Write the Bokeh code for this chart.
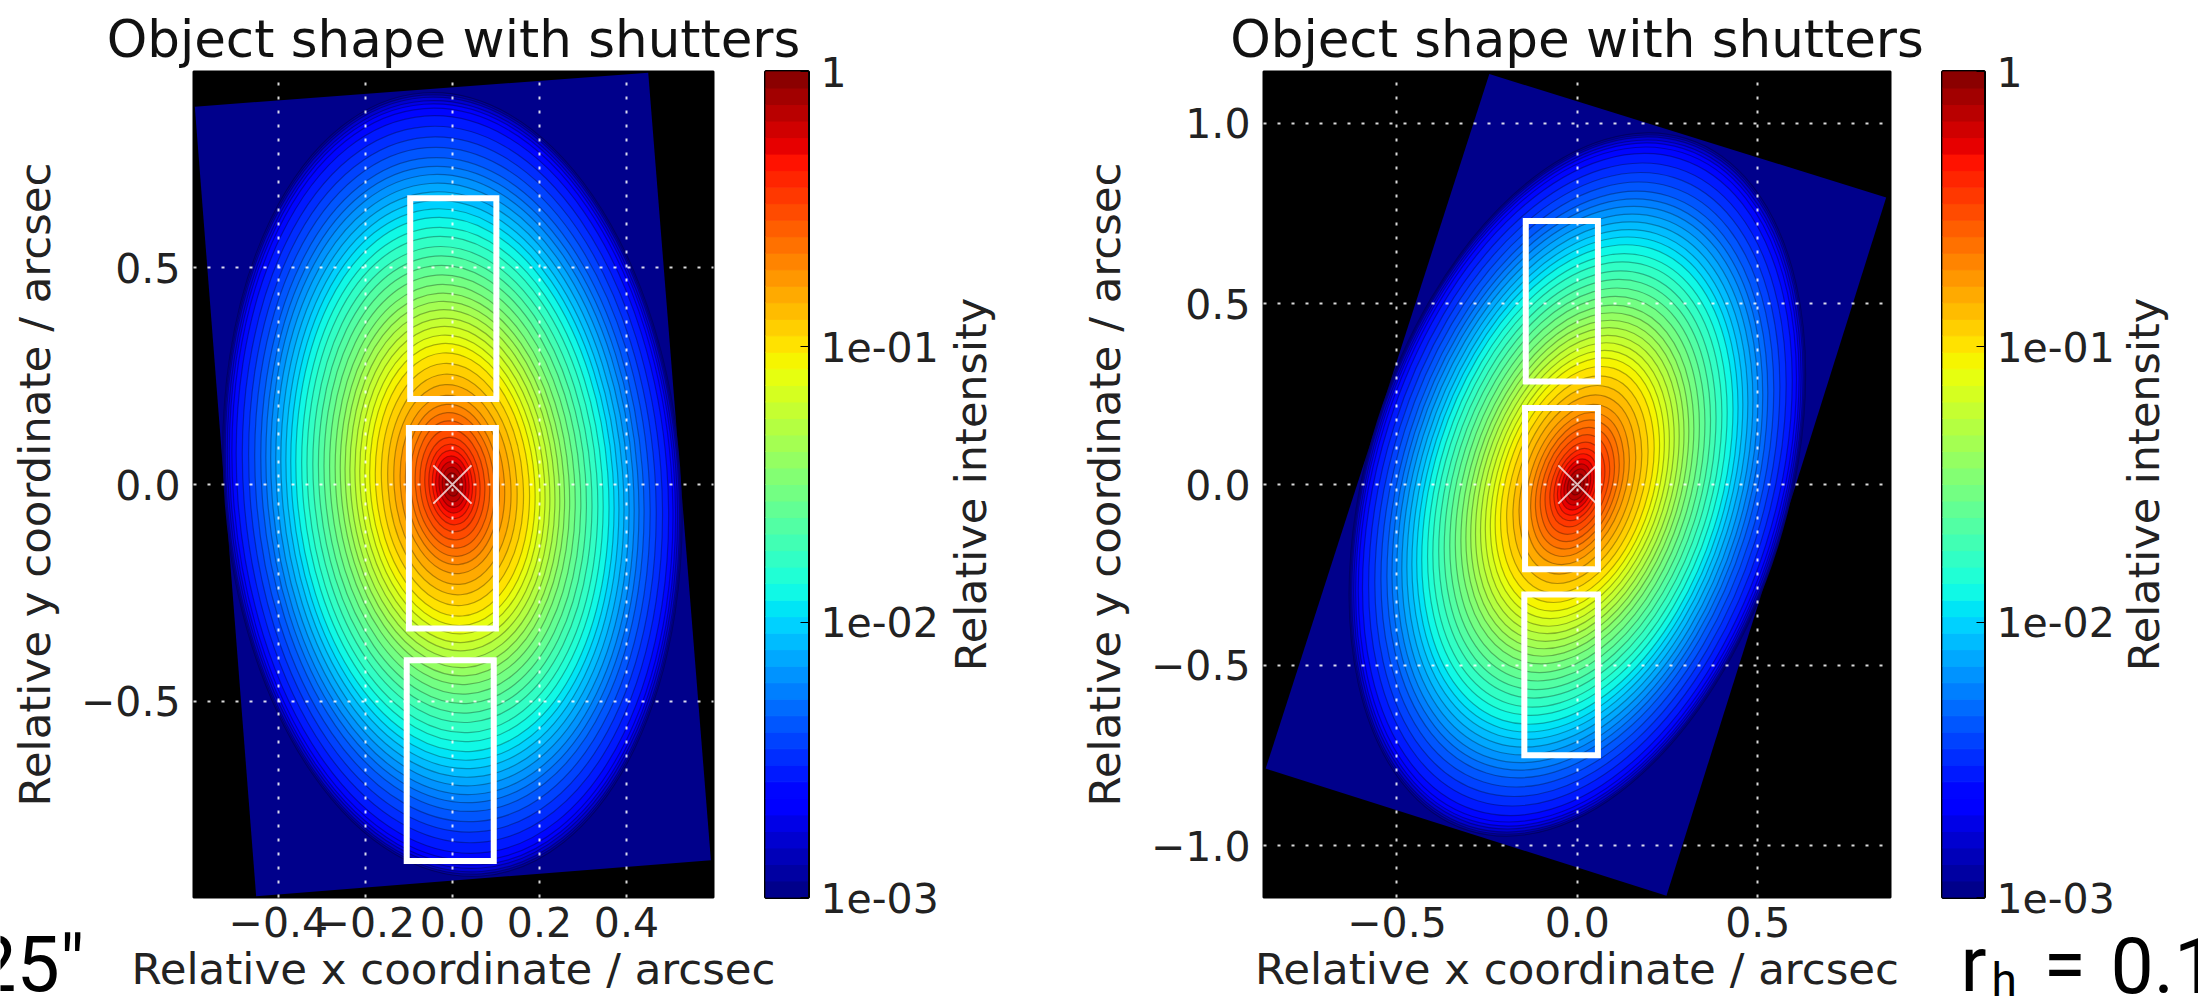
import numpy as np
from bokeh.plotting import figure
from bokeh.layouts import row
from bokeh.models import AllLabels, FixedTicker, Range1d
from bokeh.core.properties import value
from bokeh.embed import file_html
from bokeh.resources import INLINE

# ---- values ----
TITLE = "Object shape with shutters"
XLABEL = "Relative x coordinate / arcsec"
YLABEL = "Relative y coordinate / arcsec"
CBLABEL = "Relative intensity"

# semi-major axis (arcsec, left panel) of each intensity contour, outermost first
contour_major = [0.905, 0.900, 0.895, 0.887, 0.879, 0.869, 0.852, 0.828, 0.803, 0.779,
                 0.755, 0.735, 0.716, 0.696, 0.676, 0.656, 0.637, 0.617, 0.594, 0.573,
                 0.550, 0.528, 0.506, 0.484, 0.462, 0.442, 0.423, 0.404, 0.384, 0.365,
                 0.345, 0.326, 0.304, 0.280, 0.255, 0.231, 0.206, 0.185, 0.166, 0.147,
                 0.128, 0.109, 0.093, 0.079, 0.066, 0.053, 0.040, 0.027, 0.013]
axis_ratio = 0.58

left_range_x = (-0.595, 0.600)
left_range_y = (-0.952, 0.952)
left_xticks = [-0.4, -0.2, 0.0, 0.2, 0.4]
left_xlabels = ["\u22120.4", "\u22120.2", "0.0", "0.2", "0.4"]
left_yticks = [-0.5, 0.0, 0.5]
left_ylabels = ["\u22120.5", "0.0", "0.5"]
left_angle = 4.3
left_scale = 1.0
left_rect_x = [-0.592, 0.45, 0.594, -0.451]
left_rect_y = [0.871, 0.949, -0.866, -0.949]
left_box_l = [-0.097, -0.100, -0.105]
left_box_r = [0.101, 0.100, 0.095]
left_box_t = [0.660, 0.130, -0.405]
left_box_b = [0.197, -0.332, -0.868]

right_range_x = (-0.870, 0.868)
right_range_y = (-1.144, 1.144)
right_xticks = [-0.5, 0.0, 0.5]
right_xlabels = ["\u22120.5", "0.0", "0.5"]
right_yticks = [-1.0, -0.5, 0.0, 0.5, 1.0]
right_ylabels = ["\u22121.0", "\u22120.5", "0.0", "0.5", "1.0"]
right_angle = -17.5
right_scale = 1.11
right_rect_x = [-0.244, 0.856, 0.247, -0.864]
right_rect_y = [1.137, 0.795, -1.139, -0.787]
right_box_l = [-0.143, -0.145, -0.147]
right_box_r = [0.057, 0.057, 0.057]
right_box_t = [0.730, 0.212, -0.305]
right_box_b = [0.285, -0.235, -0.750]

cb_ticks = [-3, -2, -1, 0]
cb_labels = ["1e-03", "1e-02", "1e-01", "1"]
cb_levels = 50

FONT = "DejaVu Sans"
CAPTION_FONT = "Roboto"
TOP, FRAME_H, H = 71, 826, 998


def jet(t):
    r = np.interp(t, [0, 0.35, 0.66, 0.89, 1], [0, 0, 1, 1, 0.5])
    g = np.interp(t, [0, 0.125, 0.375, 0.64, 0.91, 1], [0, 0, 1, 1, 0, 0])
    b = np.interp(t, [0, 0.11, 0.34, 0.65, 1], [0.5, 1, 1, 0, 0])
    return "#%02x%02x%02x" % (int(r * 255), int(g * 255), int(b * 255))


def panel(w, left, right, frange_x, frange_y, xt, xl, yt, yl, angle, scale,
          rx, ry, bl, br, bt, bb, margin):
    p = figure(width=w, height=H, x_range=Range1d(*frange_x), y_range=Range1d(*frange_y),
               toolbar_location=None, output_backend="svg",
               min_border_left=left, min_border_right=right,
               min_border_top=TOP, min_border_bottom=H - TOP - FRAME_H,
               background_fill_color="black", border_fill_color=None, margin=margin)
    p.title.text = TITLE
    p.title.align = "center"
    p.title.text_font = FONT
    p.title.text_font_size = "51.5px"
    p.title.text_font_style = "normal"
    p.title.text_color = "#111111"
    p.title.standoff = 6
    p.outline_line_color = "black"
    p.outline_line_width = 2

    p.patch(rx, ry, fill_color=jet(0.01), line_color=None)
    maj = np.array(contour_major) * scale
    n = len(maj)
    cols = [jet(0.02 * (k + 1) + 0.01) for k in range(n)]
    p.ellipse(x=[0.0] * n, y=[0.0] * n, width=2 * maj * axis_ratio, height=2 * maj,
              angle=angle, angle_units="deg", fill_color=cols,
              line_color="black", line_alpha=0.3, line_width=1.2)
    p.quad(left=bl, right=br, top=bt, bottom=bb, fill_color=None,
           line_color="white", line_width=6, line_join="miter")
    p.scatter([0.0], [0.0], marker="x", size=54, line_color="white",
              line_alpha=0.75, line_width=2)

    for ax, ticks, labels in ((p.xaxis[0], xt, xl), (p.yaxis[0], yt, yl)):
        ax.ticker = FixedTicker(ticks=ticks)
        ax.major_label_overrides = dict(zip(ticks, labels))
        ax.major_label_policy = AllLabels()
        ax.major_tick_in = 0
        ax.major_tick_out = 0
        ax.minor_tick_in = 0
        ax.minor_tick_out = 0
        ax.axis_line_color = "black"
        ax.major_label_text_font = FONT
        ax.major_label_text_font_size = "41px"
        ax.major_label_text_color = "#222222"
        ax.major_label_standoff = 13
        ax.axis_label_text_font = FONT
        ax.axis_label_text_font_size = "43.5px"
        ax.axis_label_text_font_style = "normal"
        ax.axis_label_text_color = "#222222"
    p.xaxis[0].major_label_standoff = 9
    p.xaxis[0].axis_label = XLABEL
    p.yaxis[0].axis_label = YLABEL
    p.xaxis[0].axis_label_standoff = 4
    p.yaxis[0].axis_label_standoff = 18

    for g, ticks in ((p.xgrid[0], xt), (p.ygrid[0], yt)):
        g.ticker = FixedTicker(ticks=ticks)
        g.grid_line_color = "white"
        g.grid_line_alpha = 0.85
        g.grid_line_width = 2
        g.grid_line_dash = "3 11"
        g.level = "annotation"
    return p


def colorbar(w, left, right, margin):
    p = figure(width=w, height=H, x_range=Range1d(0, 1), y_range=Range1d(-3, 0),
               toolbar_location=None, output_backend="svg", x_axis_location=None,
               y_axis_location="right",
               min_border_left=left, min_border_right=right,
               min_border_top=TOP, min_border_bottom=H - TOP - FRAME_H,
               border_fill_color=None, margin=margin)
    edges = np.linspace(-3, 0, cb_levels + 1)
    cols = [jet((k + 0.5) / cb_levels) for k in range(cb_levels)]
    p.quad(left=0, right=1, bottom=edges[:-1], top=edges[1:], fill_color=cols, line_color=cols)
    p.grid.visible = False
    p.outline_line_color = "black"
    p.outline_line_width = 3
    ax = p.yaxis[0]
    ax.ticker = FixedTicker(ticks=cb_ticks)
    ax.major_label_overrides = dict(zip(cb_ticks, cb_labels))
    ax.major_label_policy = AllLabels()
    ax.major_tick_in = 8
    ax.major_tick_out = 0
    ax.major_tick_line_color = "black"
    ax.minor_tick_in = 0
    ax.minor_tick_out = 0
    ax.axis_line_color = "black"
    ax.major_label_text_font = FONT
    ax.major_label_text_font_size = "41px"
    ax.major_label_text_color = "#222222"
    ax.major_label_standoff = 12
    return p


def caption(x0, x1, margin):
    """Transparent full-height layer whose data units are page pixels, for free-standing text."""
    p = figure(width=x1 - x0, height=H, x_range=Range1d(x0, x1), y_range=Range1d(H, 0),
               toolbar_location=None, output_backend="svg", x_axis_location=None,
               y_axis_location=None, min_border=0, border_fill_color=None,
               background_fill_color=None, outline_line_color=None, margin=margin,
               frame_align=False)
    p.grid.visible = False
    return p


def big(p, text, x, baseline, size, align="left"):
    # the text glyph puts an "alphabetic" baseline 0.376 em below its anchor
    p.text([x], [baseline - 0.376 * size], text=[text], text_font=value(CAPTION_FONT),
           text_font_size=f"{size}px", text_color="black", text_align=align,
           text_baseline="alphabetic")


def cb_title(p, x):
    p.text([x], [484], text=[CBLABEL], text_font=value(FONT), text_font_size="43px",
           text_color="#222222", text_align="center", text_baseline="middle",
           angle=np.pi / 2)


BASE = 993

pT = caption(0, 100, (0, -100, 0, 0))
big(pT, '25"', 84, BASE, 77, "right")

pA = panel(810, 193, 97, left_range_x, left_range_y, left_xticks, left_xlabels,
           left_yticks, left_ylabels, left_angle, left_scale, left_rect_x, left_rect_y,
           left_box_l, left_box_r, left_box_t, left_box_b, (0, 0, 0, 0))
pB = colorbar(355, 35, 277, (0, 0, 0, -80))
pV = caption(930, 1000, (0, 85, 0, -155))
cb_title(pV, 970)
pC = panel(867, 190, 50, right_range_x, right_range_y, right_xticks, right_xlabels,
           right_yticks, right_ylabels, right_angle, right_scale, right_rect_x, right_rect_y,
           right_box_l, right_box_r, right_box_t, right_box_b, (0, 0, 0, -12))
pD = colorbar(298, 42, 214, (0, 0, 0, -40))

pU = caption(1948, 2198, (0, 0, 0, -250))
cb_title(pU, 2143)
big(pU, "r", 1960, BASE, 77)
big(pU, "h", 1991, 997, 46)
big(pU, "=", 2043, BASE, 77)
big(pU, "0.1", 2110, BASE, 77)

page = row(pT, pA, pB, pV, pC, pD, pU, spacing=0)
open("out.html", "w").write(file_html(page, INLINE))
